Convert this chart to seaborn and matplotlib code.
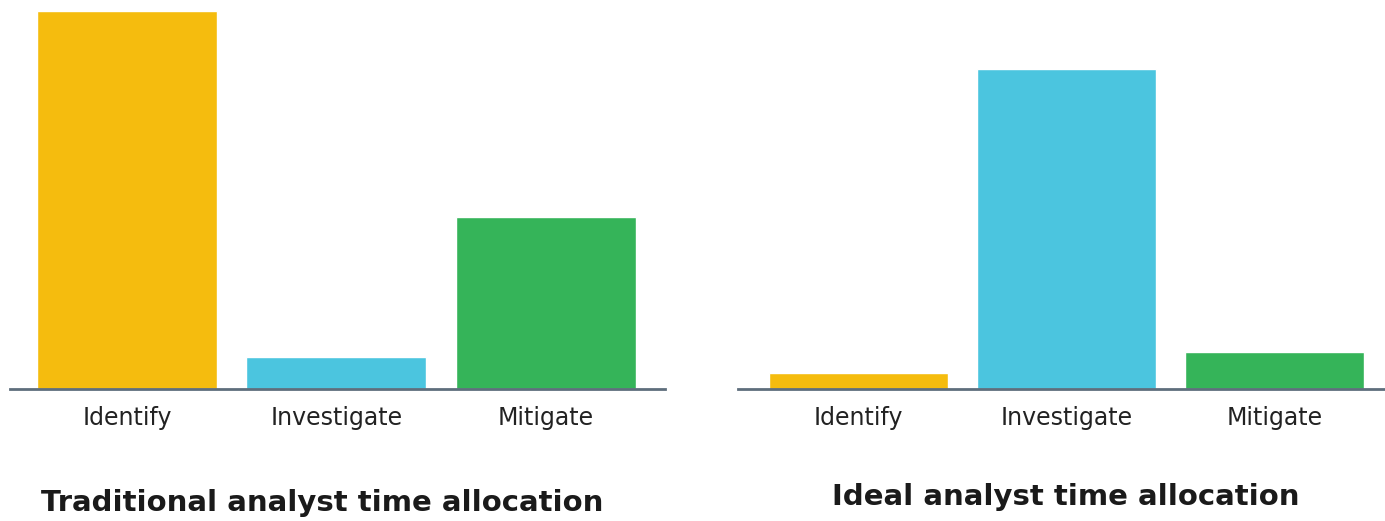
import matplotlib.pyplot as plt
import seaborn as sns
import pandas as pd

sns.set_theme(style="white")
plt.rcParams['font.family'] = ['DejaVu Sans']

# Data (relative time units, no y axis shown)
categories = ["Identify", "Investigate", "Mitigate"]
traditional_time = [65, 5.5, 29.5]
ideal_time = [2.8, 55, 6.4]
bar_colors = ["#F5BC0E", "#4BC5DF", "#35B459"]

titles = ["Traditional analyst time allocation", "Ideal analyst time allocation"]

fig = plt.figure(figsize=(13.85, 5.21), dpi=100)
ax_left = fig.add_axes([0.0072, 0.2534, 0.473, 0.7256])
ax_right = fig.add_axes([0.5329, 0.2534, 0.467, 0.7256])

palette = dict(zip(categories, bar_colors))

for ax, values, xlim in [
    (ax_left, traditional_time, (-0.56, 2.57)),
    (ax_right, ideal_time, (-0.58, 2.53)),
]:
    df = pd.DataFrame({"step": categories, "time": values})
    sns.barplot(data=df, x="step", y="time", hue="step", palette=palette,
                width=0.86, saturation=1, legend=False, ax=ax)
    ax.set_xlim(*xlim)
    ax.set_ylim(0, 65)
    ax.set_xlabel("")
    ax.set_ylabel("")
    ax.set_yticks([])
    sns.despine(ax=ax, left=True, top=True, right=True)
    ax.spines['bottom'].set_color("#5E6E7C")
    ax.spines['bottom'].set_linewidth(2)
    ax.tick_params(axis='x', length=0, pad=12, labelsize=17, labelcolor="#222222")

fig.text(0.2329, 0.035, titles[0], ha='center', va='center',
         fontsize=21, fontweight='bold', color="#1a1a1a")
fig.text(0.7693, 0.046, titles[1], ha='center', va='center',
         fontsize=21, fontweight='bold', color="#1a1a1a")

plt.savefig("out.png", dpi=100)
plt.close()
